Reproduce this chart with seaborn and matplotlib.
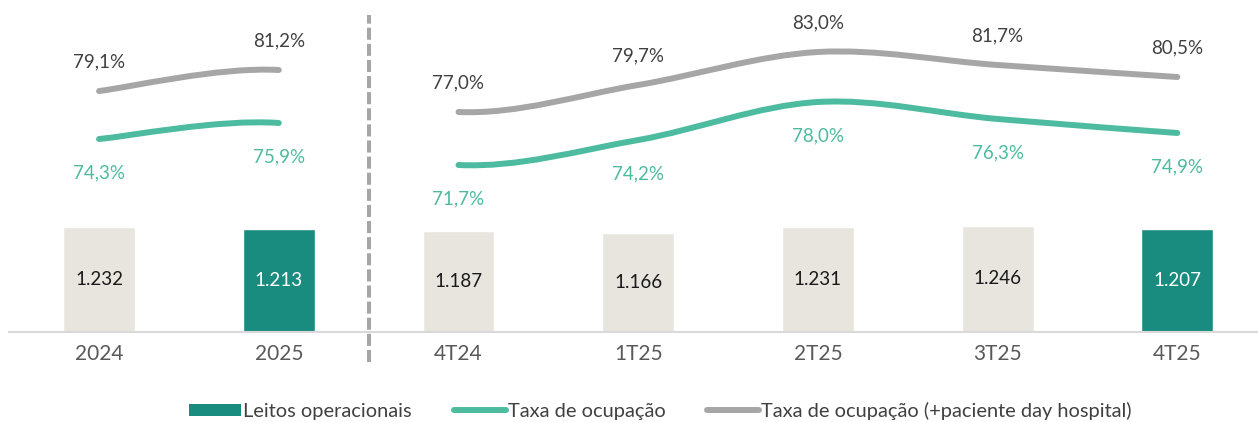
import matplotlib
matplotlib.use('Agg')
import matplotlib.pyplot as plt
import seaborn as sns
import pandas as pd
import numpy as np
from matplotlib.path import Path
from matplotlib.patches import PathPatch, Patch
from matplotlib.lines import Line2D

categories = ['2024', '2025', '4T24', '1T25', '2T25', '3T25', '4T25']
leitos = [1232, 1213, 1187, 1166, 1231, 1246, 1207]
taxa = [74.3, 75.9, 71.7, 74.2, 78.0, 76.3, 74.9]
taxa_dh = [79.1, 81.2, 77.0, 79.7, 83.0, 81.7, 80.5]
hidden_gap = 1  # segment 2025 -> 4T24 is not drawn

dark = '#1a8c7f'
light = '#e8e5df'
green = '#4dbb9f'
gray = '#a6a6a6'
bar_colors = [light, dark, light, light, light, light, dark]

sns.set_style('white')
plt.rcParams['font.family'] = ['Lato', 'DejaVu Sans']

fig = plt.figure(figsize=(12.58, 4.22), dpi=100)
ax = fig.add_axes([9.2 / 1258, 90 / 422, 1258 / 1258, 332 / 422])

df = pd.DataFrame({'cat': categories, 'leitos': [v / 1000 for v in leitos]})
sns.barplot(data=df, x='cat', y='leitos', hue='cat', palette=bar_colors,
            width=0.4, legend=False, ax=ax, saturation=1)
ax.set_xlim(-0.5, 6.5)
ax.set_ylim(0, 3.897)
for i, v in enumerate(leitos):
    txt = f'{v // 1000}.{v % 1000:03d}'
    ax.text(i, v / 2000, txt, ha='center', va='center', fontsize=13.5,
            color='white' if bar_colors[i] == dark else '#1a1a1a')

ax.set_xlabel('')
ax.set_ylabel('')
ax.set_yticks([])
ax.tick_params(axis='x', length=0, labelsize=15, labelcolor='#595959', pad=9)
for s in ['top', 'left', 'right']:
    ax.spines[s].set_visible(False)
ax.spines['bottom'].set_color('#d9d9d9')
ax.spines['bottom'].set_linewidth(1.5)

ax.axvline(1.5, ymin=-0.09, ymax=0.955, color=gray, lw=2.9,
           dashes=(3, 1), clip_on=False)

ax2 = ax.twinx()
ax2.set_ylim(55.0, 88.2)
ax2.axis('off')


def smooth(xs, ys, skip):
    # Excel-like smoothed line as cubic bezier, one series with a hidden segment
    pts = np.column_stack([xs, ys]).astype(float)
    n = len(pts)
    verts, codes = [], []
    for i in range(n - 1):
        if i == skip:
            continue
        p0 = pts[max(i - 1, 0)]
        p1 = pts[i]
        p2 = pts[i + 1]
        p3 = pts[min(i + 2, n - 1)]
        c1 = p1 + (p2 - p0) / 6
        c2 = p2 - (p3 - p1) / 6
        if not verts or i - 1 == skip:
            verts.append(p1)
            codes.append(Path.MOVETO)
        verts += [c1, c2, p2]
        codes += [Path.CURVE4] * 3
    return Path(verts, codes)


xs = list(range(len(categories)))
for vals, col in [(taxa_dh, gray), (taxa, green)]:
    patch = PathPatch(smooth(xs, vals, hidden_gap), fill=False, edgecolor=col,
                      lw=4.3, capstyle='round', joinstyle='round')
    ax2.add_patch(patch)

for i in range(len(categories)):
    ax2.annotate(f'{taxa_dh[i]:.1f}%'.replace('.', ','), (i, taxa_dh[i]),
                 xytext=(0, 29), textcoords='offset pixels', ha='center',
                 va='center', fontsize=13.5, color='#404040')
    ax2.annotate(f'{taxa[i]:.1f}%'.replace('.', ','), (i, taxa[i]),
                 xytext=(0, -34), textcoords='offset pixels', ha='center',
                 va='center', fontsize=13.5, color=green)

handles = [Patch(facecolor=dark, edgecolor='none'),
           Line2D([], [], color=green, lw=4.3, solid_capstyle='round'),
           Line2D([], [], color=gray, lw=4.3, solid_capstyle='round')]
labels = ['Leitos operacionais', 'Taxa de ocupação',
          'Taxa de ocupação (+paciente day hospital)']
fig.legend(handles, labels, loc='center', bbox_to_anchor=(0.525, 1 - 411 / 422),
           ncol=3, frameon=False, fontsize=14.4, labelcolor='#404040',
           handlelength=2.6, handleheight=0.6, handletextpad=0.1,
           columnspacing=2.1)

fig.savefig('out.png', dpi=100)
